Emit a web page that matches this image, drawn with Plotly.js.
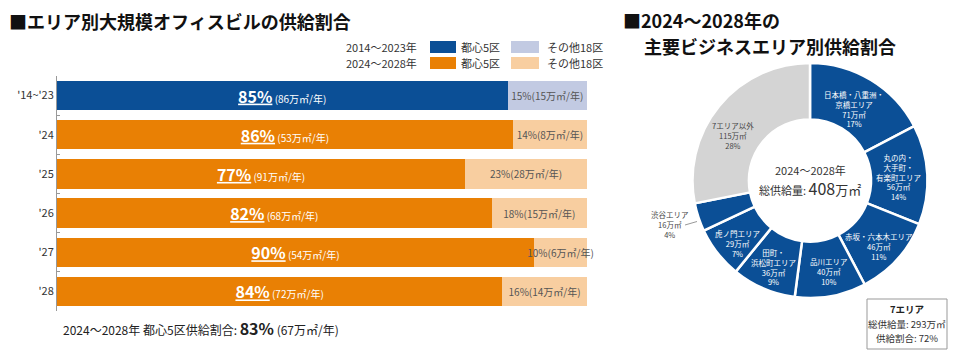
<!DOCTYPE html>
<html><head><meta charset="utf-8">
<script src="https://cdn.plot.ly/plotly-3.0.1.min.js"></script>
<style>body{margin:0;background:#fff}#chart{width:960px;height:363px}</style>
</head><body><div id="chart"></div>
<script>
// ---- bar chart data ----
const periods = ["'14~'23", "'24", "'25", "'26", "'27", "'28"];
const centralPct = [85, 86, 77, 82, 90, 84];
const centralVol = [86, 53, 91, 68, 54, 72];
const otherPct = [15, 14, 23, 18, 10, 16];
const otherVol = [15, 8, 28, 15, 6, 14];
const centralColors = ['#0b4f96', '#e98004', '#e98004', '#e98004', '#e98004', '#e98004'];
const otherColors = ['#c2cae2', '#f8cea0', '#f8cea0', '#f8cea0', '#f8cea0', '#f8cea0'];

// ---- donut data ----
const areaLabels = ['日本橋・八重洲・<br>京橋エリア', '丸の内・<br>大手町・<br>有楽町エリア', '赤坂・六本木エリア', '品川エリア', '田町・<br>浜松町エリア', '虎ノ門エリア', '渋谷エリア', '7エリア以外'];
const areaVol = [71, 56, 46, 40, 36, 29, 16, 115];
const areaPct = [17, 14, 11, 10, 9, 7, 4, 28];
const areaColors = ['#0b4f96', '#0b4f96', '#0b4f96', '#0b4f96', '#0b4f96', '#0b4f96', '#0b4f96', '#d4d4d4'];

const FONT = '"Noto Sans CJK JP", "Noto Sans", sans-serif';
const px = x => x / 960;
const py = y => 1 - y / 363;

const centralText = centralPct.map((p, i) =>
  `<b><u><span style="font-size:16px">${p}%</span></u></b> (${centralVol[i]}万㎡/年)`);
const otherText = otherPct.map((p, i) => `${p}%(${otherVol[i]}万㎡/年)`);
const areaText = areaLabels.map((l, i) => `${l}<br>${areaVol[i]}万㎡<br>${areaPct[i]}%`);

// label placement (layout only, pixels) for the donut labels, in slice order
const areaLabelPos = [[854, 109], [898, 177], [879, 246], [829, 271], [773, 267], [737, 243], [670, 224], [733, 135]];

const traces = [
  {
    type: 'bar', orientation: 'h', y: periods, x: centralPct,
    marker: { color: centralColors }, text: centralText,
    textposition: 'inside', insidetextanchor: 'middle', constraintext: 'none',
    textfont: { color: '#fff', size: 10, family: FONT }, hoverinfo: 'skip', showlegend: false
  },
  {
    type: 'bar', orientation: 'h', y: periods, x: otherPct,
    marker: { color: otherColors }, text: otherText, cliponaxis: false,
    textposition: 'inside', insidetextanchor: 'middle', constraintext: 'none',
    textfont: { color: '#555', size: 10, family: FONT }, hoverinfo: 'skip', showlegend: false
  },
  {
    type: 'pie', labels: areaLabels, values: areaVol,
    textinfo: 'none',
    hole: 0.52, sort: false, direction: 'clockwise', rotation: 0,
    marker: { colors: areaColors, line: { color: '#fff', width: 2.5 } },
    domain: { x: [px(692), px(928)], y: [py(298), py(63)] },
    showlegend: false, hoverinfo: 'skip'
  }
];

const annotations = [
  { text: '<b>■エリア別大規模オフィスビルの供給割合</b>', x: px(7), y: py(21), xanchor: 'left', yanchor: 'middle', font: { size: 18, color: '#111' } },
  { text: '<b>■2024～2028年の</b>', x: px(621), y: py(20), xanchor: 'left', yanchor: 'middle', font: { size: 18, color: '#111' } },
  { text: '<b>主要ビジネスエリア別供給割合</b>', x: px(642), y: py(46), xanchor: 'left', yanchor: 'middle', font: { size: 18, color: '#111' } },
  // legend
  { text: '2014～2023年', x: px(419), y: py(47), xanchor: 'right', yanchor: 'middle', font: { size: 11, color: '#333' } },
  { text: '2024～2028年', x: px(419), y: py(63), xanchor: 'right', yanchor: 'middle', font: { size: 11, color: '#333' } },
  { text: '都心5区', x: px(459), y: py(47), xanchor: 'left', yanchor: 'middle', font: { size: 11, color: '#333' } },
  { text: '都心5区', x: px(459), y: py(63), xanchor: 'left', yanchor: 'middle', font: { size: 11, color: '#333' } },
  { text: 'その他18区', x: px(545), y: py(47), xanchor: 'left', yanchor: 'middle', font: { size: 11, color: '#333' } },
  { text: 'その他18区', x: px(545), y: py(63), xanchor: 'left', yanchor: 'middle', font: { size: 11, color: '#333' } },
  // bottom summary
  { text: '2024～2028年 都心5区供給割合: <b><span style="font-size:16px">83%</span></b> (67万㎡/年)', x: px(61), y: py(328), xanchor: 'left', yanchor: 'middle', font: { size: 12, color: '#222' } },
  // donut centre
  { text: '2024～2028年', x: px(810), y: py(170), xanchor: 'center', yanchor: 'middle', font: { size: 11, color: '#333' } },
  { text: '総供給量: <span style="font-size:16px">408</span><span style="font-size:13px">万㎡</span>', x: px(810), y: py(188), xanchor: 'center', yanchor: 'middle', font: { size: 11, color: '#333' } },
  // 7 area box
  { text: '<b>7エリア</b>', x: px(907), y: py(309), xanchor: 'center', yanchor: 'middle', font: { size: 9.5, color: '#222' } },
  { text: '総供給量: 293万㎡', x: px(907), y: py(323.5), xanchor: 'center', yanchor: 'middle', font: { size: 9.5, color: '#333' } },
  { text: '供給割合: 72%', x: px(907), y: py(338), xanchor: 'center', yanchor: 'middle', font: { size: 9.5, color: '#333' } }
];
areaText.forEach((t, i) => {
  const p = areaLabelPos[i];
  annotations.push({ text: t, x: px(p[0]), y: py(p[1]), xanchor: 'center', yanchor: 'middle',
    font: { size: 7.5, color: (areaColors[i] === '#d4d4d4' || areaLabels[i] === '渋谷エリア') ? '#444' : '#fff' } });
});
const anns = annotations.map(a => Object.assign({ xref: 'paper', yref: 'paper', showarrow: false }, a, { font: Object.assign({ family: FONT }, a.font) }));

const shapes = [
  { x0: 430, x1: 456, y0: 41, y1: 53, c: '#0b4f96' },
  { x0: 511, x1: 539, y0: 41, y1: 53, c: '#c2cae2' },
  { x0: 430, x1: 456, y0: 57, y1: 69, c: '#e98004' },
  { x0: 511, x1: 539, y0: 57, y1: 69, c: '#f8cea0' }
].map(s => ({ type: 'rect', xref: 'paper', yref: 'paper', x0: px(s.x0), x1: px(s.x1), y0: py(s.y1), y1: py(s.y0), fillcolor: s.c, line: { width: 0 } }));
shapes.push({ type: 'rect', xref: 'paper', yref: 'paper', x0: px(867), x1: px(947), y0: py(349), y1: py(299), fillcolor: 'rgba(0,0,0,0)', line: { color: '#999', width: 1 } });
// leader line for the Shibuya label
shapes.push({ type: 'line', xref: 'paper', yref: 'paper', x0: px(685), y0: py(225), x1: px(697), y1: py(221.5), line: { color: '#999', width: 1 } });

const layout = {
  width: 960, height: 363,
  margin: { l: 0, r: 0, t: 0, b: 0 },
  paper_bgcolor: '#fff', plot_bgcolor: '#fff',
  font: { family: FONT, color: '#333' },
  barmode: 'stack', bargap: 0.25,
  xaxis: { domain: [px(57), px(587)], range: [0, 100], visible: false, fixedrange: true },
  yaxis: {
    domain: [py(311), py(76)], autorange: 'reversed', type: 'category',
    showline: true, linecolor: '#999', linewidth: 1,
    ticks: 'inside', tickson: 'boundaries', ticklen: 3, tickcolor: '#999',
    tickfont: { size: 11, color: '#333', family: FONT }, showgrid: false, zeroline: false
  },
  annotations: anns,
  shapes: shapes
};

Plotly.newPlot('chart', traces, layout, { displayModeBar: false, staticPlot: true });
</script>
</body></html>
